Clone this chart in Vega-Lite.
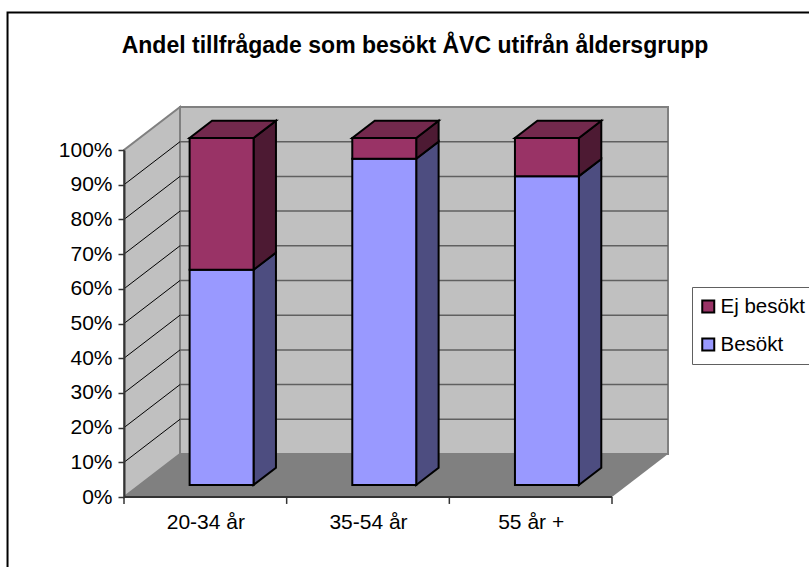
{
"$schema":"https://vega.github.io/schema/vega-lite/v6.json",
"width":488,"height":347,
"autosize":{"type":"none"},
"padding":{"left":124,"top":150,"right":197,"bottom":70},
"background":"white",
"title":{"text":"Andel tillfrågade som besökt ÅVC utifrån åldersgrupp","font":"Liberation Sans","fontSize":23,"fontWeight":"bold","color":"#000000","anchor":"middle","frame":"group","dx":47,"dy":46,"offset":0},
"config":{"view":{"stroke":null},"axis":{"labelOverlap":false,"labelBound":false,"labelFlush":false}},
"datasets":{
"bars":[
{"grupp":"20-34 år","idx":0,"serie":"Besökt","start":0,"end":0.62},
{"grupp":"20-34 år","idx":0,"serie":"Ej besökt","start":0.62,"end":1},
{"grupp":"35-54 år","idx":1,"serie":"Besökt","start":0,"end":0.94},
{"grupp":"35-54 år","idx":1,"serie":"Ej besökt","start":0.94,"end":1},
{"grupp":"55 år +","idx":2,"serie":"Besökt","start":0,"end":0.89},
{"grupp":"55 år +","idx":2,"serie":"Ej besökt","start":0.89,"end":1}
],
"depth":[{"d":0},{"d":1}],
"levels":[{"v":0.1},{"v":0.2},{"v":0.3},{"v":0.4},{"v":0.5},{"v":0.6},{"v":0.7},{"v":0.8},{"v":0.9},{"v":1}],
"ticks":[{"t":0},{"t":1},{"t":2},{"t":3}],
"one":[{"n":1}]
},
"layer":[
{"data":{"name":"one"},"mark":{"type":"rect","fill":"white","fillOpacity":0,"stroke":"black","strokeWidth":2},
 "encoding":{"x":{"datum":-0.716,"type":"quantitative","scale":{"domain":[0,3],"nice":false,"zero":false},
   "axis":{"values":[0.5,1.5,2.5],"title":null,"grid":false,"ticks":false,"labelExpr":"['20-34 år','35-54 år','55 år +'][floor(datum.value)]","labelFont":"Liberation Sans","labelFontSize":21,"labelColor":"#000000","labelPadding":14,"labelAngle":0,"domain":false}},
  "x2":{"datum":4.3},
  "y":{"datum":1.396,"type":"quantitative","scale":{"domain":[0,1],"nice":false,"zero":false},
   "axis":{"values":[0,0.1,0.2,0.3,0.4,0.5,0.6,0.7,0.8,0.9,1],"tickCount":11,"format":".0%","title":null,"grid":false,"domainColor":"#333333","domainWidth":2,"tickColor":"#333333","tickSize":6,"tickWidth":1.5,"labelFont":"Liberation Sans","labelFontSize":21,"labelColor":"#000000","labelPadding":6,"labelOverlap":false,"zindex":1}},
  "y2":{"datum":-0.3}}},
{"data":{"name":"one"},"mark":{"type":"rect","fill":"#C0C0C0","stroke":"#808080","strokeWidth":2},
 "encoding":{"x":{"datum":0.3443,"type":"quantitative"},"x2":{"datum":3.3443},"y":{"datum":0.1239,"type":"quantitative"},"y2":{"datum":1.1239}}},
{"data":{"name":"depth"},"transform":[{"calculate":"datum.d*0.3443","as":"px"},{"calculate":"datum.d*0.1239","as":"py"},{"calculate":"datum.py+1","as":"py2"}],
 "mark":{"type":"area","orient":"vertical","fill":"#C0C0C0","stroke":"#808080","strokeWidth":2},
 "encoding":{"x":{"field":"px","type":"quantitative"},"y":{"field":"py","type":"quantitative","stack":null},"y2":{"field":"py2"}}},
{"data":{"name":"depth"},"transform":[{"calculate":"datum.d*0.3443","as":"px"},{"calculate":"datum.px+3","as":"px2"},{"calculate":"datum.d*0.1239","as":"py"}],
 "mark":{"type":"area","orient":"horizontal","fill":"#808080"},
 "encoding":{"y":{"field":"py","type":"quantitative","stack":null},"x":{"field":"px","type":"quantitative"},"x2":{"field":"px2"}}},
{"data":{"name":"levels"},"transform":[{"filter":"datum.v<1"},{"calculate":"datum.v+0.1239","as":"vb"}],
 "mark":{"type":"rule","color":"#606060","strokeWidth":1.5},
 "encoding":{"x":{"datum":0.3443,"type":"quantitative"},"x2":{"datum":3.3443},"y":{"field":"vb","type":"quantitative"}}},
{"data":{"name":"levels"},"transform":[{"filter":"datum.v<1"},{"calculate":"datum.v+0.1239","as":"vb"}],
 "mark":{"type":"rule","color":"#000000","strokeWidth":1},
 "encoding":{"x":{"datum":0,"type":"quantitative"},"x2":{"datum":0.3443},"y":{"field":"v","type":"quantitative"},"y2":{"field":"vb"}}},
{"data":{"name":"ticks"},
 "mark":{"type":"rule","color":"#333333","strokeWidth":1.5},
 "encoding":{"x":{"field":"t","type":"quantitative"},"y":{"datum":0,"type":"quantitative"},"y2":{"datum":-0.02}}},
{"data":{"name":"one"},
 "mark":{"type":"rule","color":"#333333","strokeWidth":2},
 "encoding":{"x":{"datum":0,"type":"quantitative"},"x2":{"datum":3},"y":{"datum":0,"type":"quantitative"}}},
{"data":{"name":"bars"},"transform":[{"calculate":"[0.28,0.68]","as":"d"},{"flatten":["d"]},{"filter":"datum.serie=='Besökt'"},{"calculate":"datum.idx+0.7+datum.d*0.3443","as":"px"},{"calculate":"datum.start+datum.d*0.1239","as":"py"},{"calculate":"datum.end+datum.d*0.1239","as":"py2"}],
 "mark":{"type":"area","orient":"vertical","fill":"#4D4D80","stroke":"black","strokeWidth":2},
 "encoding":{"x":{"field":"px","type":"quantitative"},"y":{"field":"py","type":"quantitative","stack":null},"y2":{"field":"py2"},"detail":{"field":"grupp"}}},
{"data":{"name":"bars"},"transform":[{"calculate":"[0.28,0.68]","as":"d"},{"flatten":["d"]},{"filter":"datum.serie=='Ej besökt'"},{"calculate":"datum.idx+0.7+datum.d*0.3443","as":"px"},{"calculate":"datum.start+datum.d*0.1239","as":"py"},{"calculate":"datum.end+datum.d*0.1239","as":"py2"}],
 "mark":{"type":"area","orient":"vertical","fill":"#4D1A33","stroke":"black","strokeWidth":2},
 "encoding":{"x":{"field":"px","type":"quantitative"},"y":{"field":"py","type":"quantitative","stack":null},"y2":{"field":"py2"},"detail":{"field":"grupp"}}},
{"data":{"name":"bars"},"transform":[{"calculate":"[0.28,0.68]","as":"d"},{"flatten":["d"]},{"filter":"datum.serie=='Ej besökt'"},{"calculate":"datum.idx+0.307+datum.d*0.3443","as":"px"},{"calculate":"datum.idx+0.7+datum.d*0.3443","as":"px2"},{"calculate":"datum.end+datum.d*0.1239","as":"py"}],
 "mark":{"type":"area","orient":"horizontal","fill":"#73294D","stroke":"black","strokeWidth":2},
 "encoding":{"y":{"field":"py","type":"quantitative","stack":null},"x":{"field":"px","type":"quantitative"},"x2":{"field":"px2"},"detail":{"field":"grupp"}}},
{"data":{"name":"bars"},"transform":[{"calculate":"datum.idx+0.307+0.0964","as":"x1"},{"calculate":"datum.idx+0.7+0.0964","as":"x2"},{"calculate":"datum.start+0.0347","as":"y1"},{"calculate":"datum.end+0.0347","as":"y2"}],
 "mark":{"type":"rect","stroke":"black","strokeWidth":2},
 "encoding":{"x":{"field":"x1","type":"quantitative"},"x2":{"field":"x2"},"y":{"field":"y1","type":"quantitative"},"y2":{"field":"y2"},
  "color":{"field":"serie","type":"nominal","scale":{"domain":["Ej besökt","Besökt"],"range":["#993366","#9999FF"]},
   "legend":{"orient":"none","legendX":568,"legendY":137,"title":null,"symbolType":"square","symbolSize":144,"symbolStrokeColor":"black","symbolStrokeWidth":2,"symbolOpacity":1,"labelFont":"Liberation Sans","labelFontSize":20.5,"labelColor":"#000000","strokeColor":"#606060","fillColor":"white","padding":6,"clipHeight":27,"rowPadding":11,"labelOffset":2}}}}
]
}
